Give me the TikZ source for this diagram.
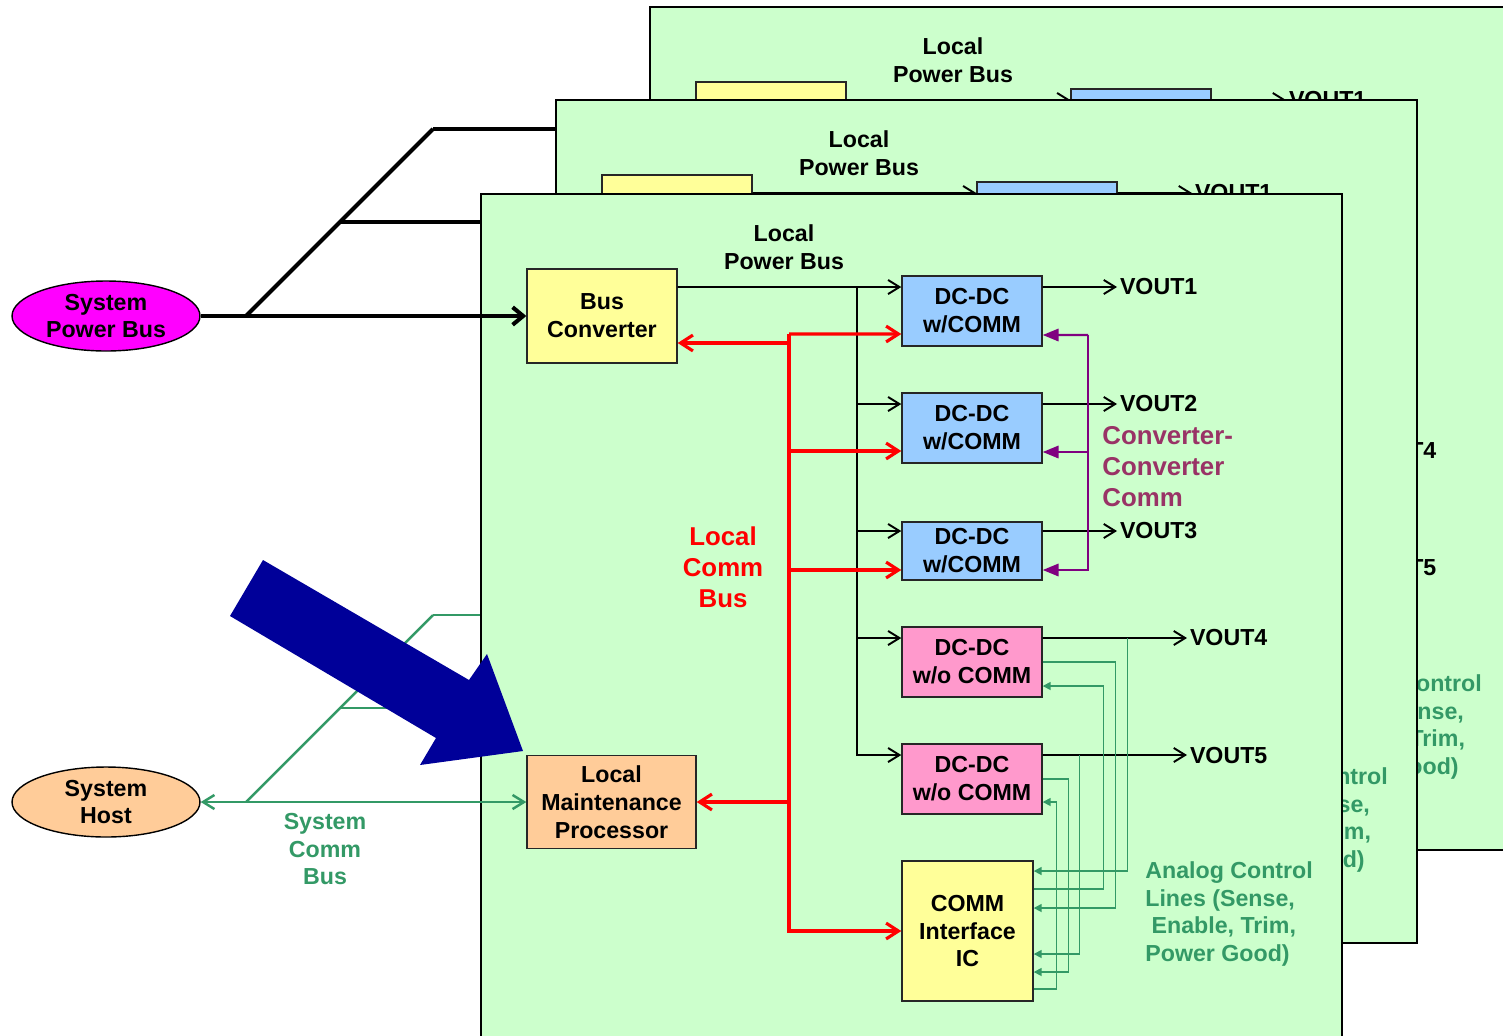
\documentclass[tikz,border=0pt]{standalone}
\usepackage{fontspec}
\setmainfont{Liberation Sans}
\usetikzlibrary{arrows.meta, shapes.geometric}

\definecolor{boardgreen}{HTML}{CCFFCC}
\definecolor{busyellow}{HTML}{FFFF99}
\definecolor{dcblue}{HTML}{99CCFF}
\definecolor{ncpink}{HTML}{FF99CC}
\definecolor{lmporange}{HTML}{FFCC99}
\definecolor{spbmagenta}{HTML}{FF00FF}
\definecolor{ccpurple}{HTML}{800080}
\definecolor{ccmaroon}{HTML}{993366}
\definecolor{angreen}{HTML}{339966}
\definecolor{arrowblue}{HTML}{000099}

\begin{document}
\begin{tikzpicture}[x=0.02cm,y=-0.02cm,
  font=\fontsize{13.2}{15.9}\selectfont\bfseries,
  big/.style={font=\fontsize{14.7}{17.6}\selectfont\bfseries},
  board/.style={draw,fill=boardgreen,line width=1.5pt},
  box/.style={draw=black!85,line width=0.8pt,align=center,inner sep=0pt,
    minimum width=2.8cm,minimum height=1.4cm},
  dcbox/.style={box,fill=dcblue},
  ncbox/.style={box,fill=ncpink},
  oval/.style={draw,ellipse,line width=0.8pt,align=center,inner sep=0pt,
    minimum width=3.76cm,minimum height=1.4cm},
  txt/.style={align=center,inner sep=0pt},
  vout/.style={anchor=west,inner sep=1.5pt},
  barb/.style={-{Straight Barb[length=6.5pt,width=8pt]}},
  pw/.style={draw,line width=1.1pt,barb},
  lcomm/.style={draw,red,line width=1.8pt,-{Straight Barb[length=7pt,width=9pt]}},
  cc/.style={draw,ccpurple,line width=1.3pt,-{Triangle[length=9pt,width=7pt]}},
  an/.style={draw,angreen,line width=0.9pt,-{Triangle[length=4.5pt,width=4.5pt]}},
  feed/.style={draw,line width=2.3pt,-{Straight Barb[length=6pt,width=10pt]}},
  sys/.style={draw,angreen,line width=1.4pt,barb}]

\useasboundingbox (0,0) rectangle (1503,1035);

\node[oval,fill=spbmagenta] (spb) at (106,316) {System\\Power Bus};
\node[oval,fill=lmporange] (host) at (106,802) {System\\Host};

% branch points of the system buses
\coordinate (pb1) at (246,316);
\coordinate (pb2) at (340,222);
\coordinate (pb3) at (433,129);
\coordinate (cb1) at (246,802);
\coordinate (cb2) at (340,708);
\coordinate (cb3) at (433,615);

% three boards, back to front
\foreach \dx/\dy/\k in {169/-187/3, 75/-94/2, 0/0/1}{
  \begin{scope}[shift={(\dx,\dy)}]
    \draw[board] (481,194) rectangle ++(861,843);

    \node[txt] (lpb) at (784,247) {Local\\Power Bus};
    \node[box,fill=busyellow,minimum width=3cm,minimum height=1.88cm] (bus) at (602,316) {Bus\\Converter};
    \node[dcbox] (dc1) at (972,311) {DC-DC\\w/COMM};
    \node[dcbox] (dc2) at (972,428) {DC-DC\\w/COMM};
    \node[dcbox,minimum height=1.16cm] (dc3) at (972,551) {DC-DC\\w/COMM};
    \node[ncbox] (nc1) at (972,662) {DC-DC\\w/o COMM};
    \node[ncbox] (nc2) at (972,779) {DC-DC\\w/o COMM};
    \node[box,fill=busyellow,minimum width=2.62cm,minimum height=2.8cm] (ic) at (967.5,931) {COMM\\Interface\\IC};
    \node[box,fill=lmporange,minimum width=3.38cm,minimum height=1.86cm] (lmp) at (611.5,802) {Local\\Maintenance\\Processor};

    \node[vout] (v1) at (1117,287) {VOUT1};
    \node[vout] (v2) at (1117,404) {VOUT2};
    \node[vout] (v3) at (1117,531) {VOUT3};
    \node[vout] (v4) at (1187,638) {VOUT4};
    \node[vout] (v5) at (1187,755) {VOUT5};

    \node[txt,big,text=red] (lcb) at (723,567) {Local\\Comm\\Bus};
    \node[txt,big,text=ccmaroon,align=left,anchor=west] (ccc) at (1102,467) {Converter-\\Converter\\Comm};
    \node[txt,text=angreen,align=left,anchor=west] (acl) at (1145,914)
      {Analog Control\\Lines (Sense,\\\hspace*{.27em}Enable, Trim,\\Power Good)};

    % local power bus
    \coordinate (pj) at (857,287);
    \draw[pw] (bus.east |- pj) -- ([yshift=.48cm]dc1.west);
    \draw[pw] (pj) |- ([yshift=.48cm]nc2.west);
    \foreach \b/\s in {dc2/.48cm, dc3/.4cm, nc1/.48cm}
      \draw[pw] ([xshift=-.9cm,yshift=\s]\b.west) -- ([yshift=\s]\b.west);

    % outputs
    \draw[pw] ([yshift=.48cm]dc1.east) -- (v1.west);
    \draw[pw] ([yshift=.48cm]dc2.east) -- (v2.west);
    \draw[pw] ([yshift=.4cm]dc3.east) -- (v3.west);
    \draw[pw] ([yshift=.48cm]nc1.east) -- (v4.west);
    \draw[pw] ([yshift=.48cm]nc2.east) -- (v5.west);

    % local comm bus
    \coordinate (cj) at (789,334);
    \draw[lcomm] (cj) -- ([yshift=-.46cm]dc1.west);
    \draw[lcomm] ([xshift=2.24cm,yshift=-.54cm]bus.east) -- ([yshift=-.54cm]bus.east);
    \foreach \b/\s in {dc2/-.46cm, dc3/-.38cm}
      \draw[lcomm] ([xshift=-2.26cm,yshift=\s]\b.west) -- ([yshift=\s]\b.west);
    \draw[lcomm] (cj) |- (ic.west);
    \draw[lcomm] (cj |- lmp.east) -- (lmp.east);

    % converter-converter comm
    \coordinate (kj) at (1088,335);
    \draw[cc] (kj) -- ([yshift=-.48cm]dc1.east);
    \draw[cc] (kj) |- ([yshift=-.38cm]dc3.east);
    \draw[cc] ([xshift=.92cm,yshift=-.48cm]dc2.east) -- ([yshift=-.48cm]dc2.east);

    % analog control lines
    \draw[an] (nc1.east) -- ++(73,0) |- ([yshift=.46cm]ic.east);
    \draw[an] ([yshift=.84cm]ic.east) -- ++(70,0) |- ([yshift=-.48cm]nc1.east);
    \draw[an] ([xshift=1.7cm,yshift=.48cm]nc1.east) |- ([yshift=1.2cm]ic.east);
    \draw[an] ([xshift=.74cm,yshift=.48cm]nc2.east) |- ([yshift=-.46cm]ic.east);
    \draw[an] (nc2.east) -- ++(26,0) |- ([yshift=-.82cm]ic.east);
    \draw[an] ([yshift=-1.16cm]ic.east) -- ++(23,0) |- ([yshift=-.46cm]nc2.east);
  \end{scope}
  \ifnum\k>1
    \draw[feed] (pb\k) -- (bus.west);
    \draw[sys] (cb\k) -- (lmp.west);
  \fi
}

% system buses to the front board
\draw[feed] (spb.east) -- (bus.west);
\draw[line width=2.3pt] (pb1) -- (pb3);
\draw[sys,{Straight Barb[length=6.5pt,width=8pt]}-{Straight Barb[length=6.5pt,width=8pt]}] (host.east) -- (lmp.west);
\draw[angreen,line width=1.4pt] (cb1) -- (cb3);
\node[txt,text=angreen] (scb) at (325,849) {System\\Comm\\Bus};

% big pointer
\fill[arrowblue] (263,560) -- (469,680) -- (487,654) -- (523,751) -- (420,765) -- (436,738) -- (230,616) -- cycle;
\end{tikzpicture}
\end{document}
